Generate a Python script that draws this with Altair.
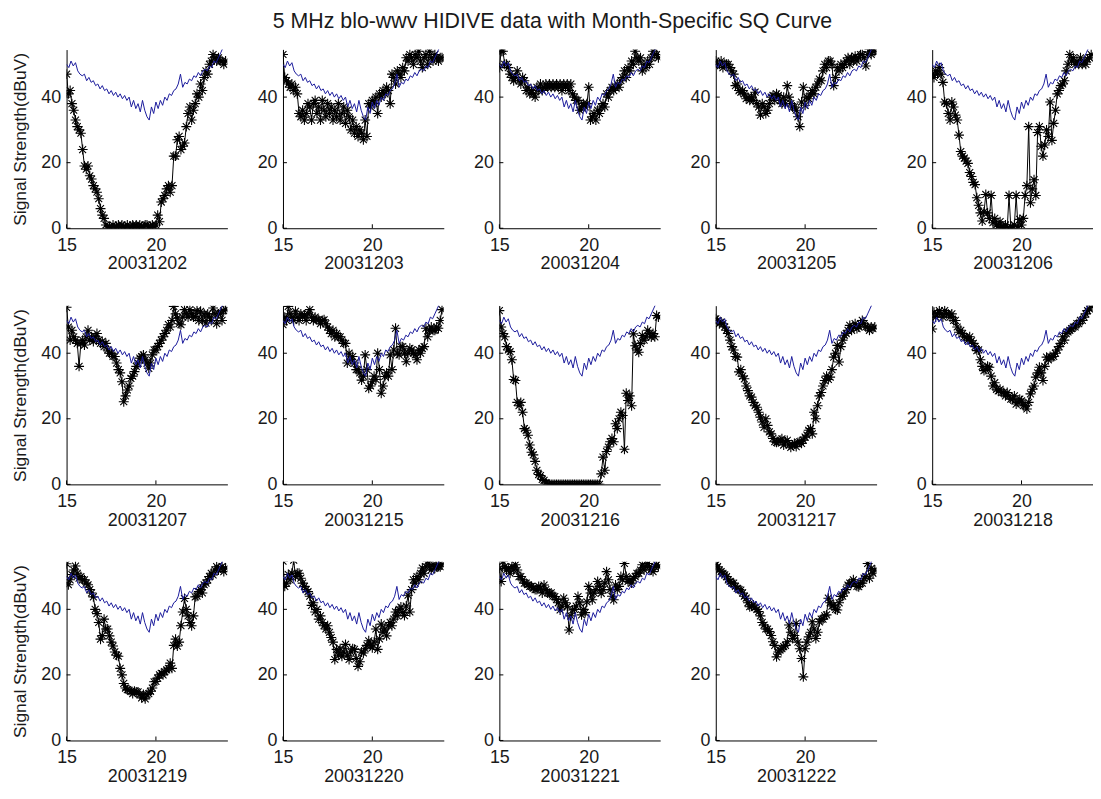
import altair as alt
import pandas as pd

TITLE = "5 MHz blo-wwv HIDIVE data with Month-Specific SQ Curve"
Y_TITLE = "Signal Strength(dBuV)"

dates = ["20031202", "20031203", "20031204", "20031205", "20031206",
         "20031207", "20031215", "20031216", "20031217", "20031218",
         "20031219", "20031220", "20031221", "20031222"]

x_ticks = [15, 20]
y_ticks = [0, 20, 40]

# hour-of-day sample grid of the measured data (one row = one hour)
hours_data = [
    15.0, 15.1, 15.2, 15.3, 15.4, 15.5, 15.6, 15.7, 15.8, 15.9,
    16.0, 16.1, 16.2, 16.3, 16.4, 16.5, 16.6, 16.7, 16.8, 16.9,
    17.0, 17.1, 17.2, 17.3, 17.4, 17.5, 17.6, 17.7, 17.8, 17.9,
    18.0, 18.1, 18.2, 18.3, 18.4, 18.5, 18.6, 18.7, 18.8, 18.9,
    19.0, 19.1, 19.2, 19.3, 19.4, 19.5, 19.6, 19.7, 19.8, 19.9,
    20.0, 20.1, 20.2, 20.3, 20.4, 20.5, 20.6, 20.7, 20.8, 20.9,
    21.0, 21.1, 21.2, 21.3, 21.4, 21.5, 21.6, 21.7, 21.8, 21.9,
    22.0, 22.1, 22.2, 22.3, 22.4, 22.5, 22.6, 22.7, 22.8, 22.9,
    23.0, 23.1, 23.2, 23.3, 23.4, 23.5, 23.6, 23.7, 23.8, 23.9,
]

# month-specific SQ curve (blue)
sq_hours = [
    15.0, 15.125, 15.25, 15.375, 15.5, 15.625, 15.75, 15.875,
    16.0, 16.125, 16.25, 16.375, 16.5, 16.625, 16.75, 16.875,
    17.0, 17.125, 17.25, 17.375, 17.5, 17.625, 17.75, 17.875,
    18.0, 18.125, 18.25, 18.375, 18.5, 18.625, 18.75, 18.875,
    19.0, 19.125, 19.25, 19.375, 19.5, 19.625, 19.75, 19.875,
    20.0, 20.125, 20.25, 20.375, 20.5, 20.625, 20.75, 20.875,
    21.0, 21.125, 21.25, 21.375, 21.5, 21.625, 21.75, 21.875,
    22.0, 22.125, 22.25, 22.375, 22.5, 22.625, 22.75, 22.875,
    23.0, 23.125, 23.25, 23.375, 23.5, 23.625, 23.75, 23.875,
]
sq_values = [
    50, 49, 51, 49.5, 50.5, 48, 47, 46.5,
    47, 45, 46, 44.5, 45, 43.5, 44, 42.5,
    43.5, 42, 42.5, 41, 42, 40.5, 41.5, 40,
    41, 39.5, 40.5, 39, 40, 37, 39, 36.5,
    38, 35.5, 39, 36, 34, 33, 37, 35,
    38.5, 36.5, 39, 37.5, 40, 39, 41, 40.5,
    42, 42.5, 44, 47, 43, 44.5, 44, 45.5,
    45, 46.5, 46, 47.5, 46.5, 48, 48.5, 48,
    49.5, 49, 51, 50.5, 52, 53.5, 55, 56,
]

v_20031202 = [
    47, 41, 42, 38, 36, 33, 31, 30, 29, 24,
    19, 18, 19, 16, 15, 13, 12, 11, 9, 6,
    4, 3, 1, 0, 0.5, 0, 1, 0, 0.5, 1,
    0, 1, 0.5, 0, 1, 0, 0.5, 1, 0, 1,
    0, 1, 0.5, 0, 1, 1, 0, 0.5, 1, 0,
    1, 4, 2, 8, 9, 10, 12, 13, 11, 13,
    22, 22, 27, 28, 24, 25, 26, 31, 35, 37,
    33, 36, 38, 41, 40, 44, 42, 46, 48, 47,
    50, 51, 53, 52, 51, 52, 51, 51, 50, 51,
]
v_20031203 = [
    53, 46, 45, 44, 43, 44, 42, 43, 41, 35,
    34, 36, 33, 35, 38, 37, 33, 38, 39, 35,
    37, 33, 39, 36, 34, 38, 35, 37, 33, 36,
    34, 38, 33, 35, 37, 32, 36, 34, 30, 33,
    29, 31, 28, 30, 29, 27, 33, 28, 38, 37,
    39, 38, 40, 35, 41, 40, 42, 41, 43, 42,
    38, 47, 46, 44, 48, 47, 46, 49, 48, 52,
    51, 53, 52, 50, 53, 52, 54, 51, 49, 52,
    53, 50, 54, 52, 51, 53, 52, 51, 52, 52,
]
v_20031204 = [
    49, 54, 54, 50, 50, 49, 47, 46, 45, 46,
    48, 45, 44, 46, 45, 42, 43, 41, 42, 41,
    40, 43, 42, 44, 42, 43, 44, 43, 44, 43,
    44, 43, 44, 43, 44, 42, 44, 43, 44, 42,
    44, 41, 40, 39, 39, 36, 37, 38, 37, 38,
    43, 33, 34, 35, 33, 36, 35, 37, 38, 37,
    41, 40, 42, 43, 42, 43, 44, 43, 45, 46,
    48, 46, 49, 48, 51, 50, 54, 52, 51, 52,
    48, 50, 49, 51, 50, 52, 54, 53, 53, 52,
]
v_20031205 = [
    51, 50, 50, 51, 49, 50, 50, 50, 49, 48,
    47, 43.5, 44, 42, 41.5, 42, 41, 39.5, 40, 39,
    40, 39, 41.5, 38, 37, 34.5, 38, 37, 35, 36,
    38, 40, 40.5, 39, 41, 40.5, 39, 38, 40, 38,
    43.5, 40, 38, 37, 37, 36, 34, 31, 38.5, 43,
    37.5, 40, 39.5, 41, 42, 41, 43, 44, 45.5, 45,
    48, 50, 49, 51, 51, 50, 43.5, 46, 49, 48,
    50, 49, 50, 51, 52, 50, 52, 51, 52.5, 51,
    52, 53, 53, 52, 49.5, 53, 54.6, 53, 54, 54,
]
v_20031206 = [
    47, 46, 48, 47, 49, 47, 44.5, 38.5, 38, 35,
    33, 38.5, 37, 34.5, 33, 28.4, 23.4, 22, 21.4, 20.5,
    19.8, 17, 15.8, 14, 13.3, 9.3, 7, 4.7, 2.2, 5,
    10.3, 4.7, 3, 10, 1.7, 3, 1, 0.7, 2, 0.5,
    0.2, 1, 0, 10, 0.5, 0, 1, 10, 0.5, 2.7,
    1, 3, 10, 13, 31, 7.8, 12, 14.8, 10, 29.2,
    31, 25, 22, 25.4, 30, 28, 38.5, 26.8, 32, 36,
    41, 42, 43.5, 44, 45, 48, 50, 53, 51, 52,
    50, 51, 50, 52, 50, 51, 50, 51.6, 52, 53,
]
v_20031207 = [
    54, 48, 44, 47, 45, 44, 43, 36, 43, 44,
    42.5, 45, 47, 44, 45, 43.6, 45, 46, 44, 43,
    43.6, 42, 43, 41, 40, 40, 39, 39, 37, 35,
    34, 31.3, 25.2, 27, 28.8, 30, 32.3, 33, 34.4, 36,
    37, 38.5, 39, 39.5, 38, 37, 35.4, 37, 39.5, 41,
    41, 42, 43, 44, 45, 46, 47, 48.7, 48, 50,
    54.3, 52, 50.7, 49, 48.7, 51, 53.3, 52, 51, 53.3,
    52, 51, 51.2, 53, 50, 52.8, 50, 52, 49.2, 52,
    51, 50, 53.8, 52, 49, 52, 52.2, 50, 53, 53.3,
]
v_20031215 = [
    48.7, 51, 50, 54.3, 52, 51, 50, 52.8, 51, 50,
    52, 51, 51.7, 50, 52, 53.3, 51, 50, 51, 50.2,
    50.2, 49, 50, 50.2, 49, 48, 47, 46, 47, 45,
    46, 45, 45, 44, 43, 43, 37, 40, 38, 39,
    37, 35, 35, 34, 31.8, 33, 39.5, 35, 29.3, 30,
    31.3, 33, 32, 40, 35, 27.8, 30, 32.9, 34, 33,
    39.5, 35, 41, 47.6, 40, 39.5, 42, 42, 40, 37.4,
    40, 41.5, 41, 40, 39.5, 38, 41, 40, 41.5, 42,
    47.6, 45, 47, 48, 47, 47, 48, 47.6, 50, 53.3,
]
v_20031216 = [
    53, 48, 46, 45, 42, 41, 40.5, 38, 32, 31.7,
    25, 24, 25, 22, 17, 16.5, 15, 12, 9.8, 9,
    7, 4.3, 3, 2.7, 1.5, 1.2, 0.5, 0, 0, 0,
    0, 0, 0, 0, 0, 0, 0, 0, 0, 0,
    0, 0, 0, 0, 0, 0, 0, 0, 0, 0,
    0, 0, 0, 0, 0, 0, 0, 3.2, 8.3, 4.3,
    10, 11.4, 13, 14, 13, 18.5, 17, 20, 22, 21,
    10.7, 27.8, 25.6, 27, 24, 45.9, 42.3, 41, 40.3, 43,
    45.4, 44, 45, 47, 46, 44.9, 46, 45, 51.5, 51,
]
v_20031217 = [
    50.5, 50, 49, 49.5, 49, 48, 47, 46, 44, 42,
    41, 39, 38.8, 34.3, 35, 33, 32.2, 30, 28.6, 27,
    26.6, 25, 24, 23.5, 22, 20.5, 19, 17.4, 20, 18,
    16, 15.4, 14, 13, 12.8, 13, 13.5, 13.9, 12, 13,
    13.4, 12, 11.3, 12, 12.5, 11.5, 12.8, 13, 12.5, 13.5,
    14.4, 15, 16.5, 17, 15.4, 22, 20, 24, 27, 28,
    30, 31.7, 33, 32, 32.7, 35, 38.8, 40, 42.4, 37.3,
    42, 44, 45.5, 46, 47, 48.5, 47, 48, 49, 47.5,
    48, 49, 50, 49, 48, 48, 47, 48, 47.5, 48,
]
v_20031218 = [
    47.4, 52.5, 51, 52, 53, 52, 51, 53, 52, 52,
    51, 52, 50, 50, 48, 46.4, 47, 46, 45, 44.9,
    44, 45, 43.8, 43, 42, 40.8, 41, 38, 36, 34.7,
    35, 36, 35.7, 33, 30, 31, 29, 28.5, 29, 28,
    28, 27, 28, 27, 26, 26, 27, 24.5, 25, 26,
    25.5, 24, 24, 23, 25, 27.6, 29, 30, 32.7, 34,
    35.7, 34, 31.7, 36, 38.8, 38, 39, 38.8, 39, 40,
    41, 42, 43, 45, 44, 46, 46.5, 47, 47.5, 48,
    48, 49, 49, 50, 50, 51, 52, 53, 53.5, 54.5,
]
v_20031219 = [
    53.9, 47.5, 49, 50.6, 52, 53.2, 51, 49.5, 50, 49,
    49, 48, 47.5, 46, 45, 43.8, 40, 38.7, 36, 30.9,
    32, 37, 34, 34, 31.9, 30, 28.8, 27, 26, 25.7,
    22, 20, 17.4, 16, 15.5, 15.3, 15, 14.3, 15, 14.8,
    14.8, 14, 13, 14, 12.7, 14, 14.3, 15, 16, 17.9,
    18, 19, 20, 20.5, 20, 21, 21.5, 22, 23.6, 22,
    29, 30.9, 28.8, 30, 35, 39.2, 43.3, 40, 38, 36,
    35, 38, 43.8, 44, 45.4, 46, 45, 47.5, 48, 49,
    50, 51, 50.5, 52, 53, 52, 52.6, 53, 51.5, 52.6,
]
v_20031220 = [
    54.7, 47, 48, 50.6, 49, 51, 55, 50, 51, 51,
    49.5, 48, 47, 46, 45.4, 44, 41.2, 42, 39.2, 40,
    37, 38, 36, 35, 34, 35, 33, 31.4, 30, 24.7,
    27.8, 26, 28, 25.7, 27, 29.3, 26, 24.7, 27, 28,
    27.8, 25, 22.6, 24, 27, 26.7, 28, 29, 30.4, 29,
    28.3, 30, 34, 27.8, 31, 35.5, 33, 34, 31.9, 35,
    36, 35, 37, 39.2, 38, 40, 40.7, 39, 38.1, 41,
    44.3, 39.2, 46, 49, 48, 50, 49, 51, 52.6, 51,
    53, 54.7, 53, 52, 53.7, 52.5, 53, 53.2, 53, 53.7,
]
v_20031221 = [
    52.5, 48.5, 54.6, 53, 52, 52.5, 51, 53, 52, 53.6,
    52, 50, 50, 49, 48, 48, 47.5, 47, 47, 46.5,
    46, 46, 47, 46.5, 45, 47.4, 46, 45, 44.9, 45,
    44, 43.9, 43, 42, 39.8, 41, 43.4, 42, 40.8, 33.7,
    38, 39.8, 40, 41, 43.9, 42, 38.3, 40, 39, 42.3,
    47, 45, 42.9, 45, 46, 48.5, 47, 44.9, 46, 48,
    51.5, 49, 46, 44, 42.9, 47.4, 46, 47, 50, 49,
    54, 50, 48.5, 49, 48, 49.5, 50, 51, 51, 52,
    53.6, 52, 53, 54, 53, 52, 51.5, 53, 53.6, 53,
]
v_20031222 = [
    53.6, 53, 52, 51.5, 51, 50.5, 50, 49, 48.5, 48,
    48, 47, 46.4, 46, 45.9, 45, 44, 43.4, 42, 40.8,
    41, 41.3, 40.5, 40, 39.3, 38, 36, 35.2, 34, 34,
    33.2, 32, 30.1, 29, 25.5, 27, 27.6, 28, 28.6, 29,
    30.1, 35.2, 33, 31.1, 32, 35.7, 30, 28, 25, 19.4,
    28, 30, 31.6, 33, 36.2, 34, 31.1, 33, 36.2, 37,
    37, 38, 38.3, 43.4, 42, 41, 41.3, 40, 39.8, 42,
    43.9, 44, 45, 46, 47.4, 48, 48, 49, 48, 47,
    46.9, 48, 48, 49.5, 50, 54, 49.5, 52.5, 51, 52,
]

series = [v_20031202, v_20031203, v_20031204, v_20031205, v_20031206,
          v_20031207, v_20031215, v_20031216, v_20031217, v_20031218,
          v_20031219, v_20031220, v_20031221, v_20031222]

W, H = 162, 180
HGAP, VGAP = 56, 78
FONT = "Liberation Sans"
TXT = "#1a1a1a"
BLUE = "#1c1c9c"
ASTERISK = "M-1,0L1,0M0,-1L0,1M-0.7,-0.7L0.7,0.7M-0.7,0.7L0.7,-0.7"

sq_df = pd.DataFrame({"hour": sq_hours, "ss": sq_values})
xtick_df = pd.DataFrame({"t": x_ticks})
ytick_df = pd.DataFrame({"t": y_ticks})


def make_panel(date, values, col):
    df = pd.DataFrame({"hour": hours_data, "ss": values})
    xsc = alt.Scale(domain=[15, 24], nice=False, zero=False)
    ysc = alt.Scale(domain=[0, 54.5], nice=False, zero=False)
    xax = alt.Axis(values=x_ticks, title=date, labelFlush=False,
                   labelPadding=8, titlePadding=1)
    if col == 0:
        yax = alt.Axis(values=y_ticks, title=Y_TITLE, labelPadding=6,
                       titlePadding=11, titleFontSize=17.5)
    else:
        yax = alt.Axis(values=y_ticks, title=None, labelPadding=6)
    x = alt.X("hour:Q", scale=xsc, axis=xax)
    y = alt.Y("ss:Q", scale=ysc, axis=yax)
    base = alt.Chart(df)
    black_line = base.mark_line(color="black", strokeWidth=1, clip=True).encode(x=x, y=y)
    black_pts = base.mark_point(shape=ASTERISK, filled=False, color="black",
                                strokeWidth=1.1, size=100, opacity=1, clip=True).encode(x=x, y=y)
    blue = alt.Chart(sq_df).mark_line(color=BLUE, strokeWidth=1, clip=True).encode(
        x=alt.X("hour:Q", scale=xsc), y=alt.Y("ss:Q", scale=ysc))
    xt = alt.Chart(xtick_df).mark_rule(color="black", strokeWidth=1).encode(
        x=alt.X("t:Q", scale=xsc), y=alt.value(H - 4), y2=alt.value(H))
    yt = alt.Chart(ytick_df).mark_rule(color="black", strokeWidth=1).encode(
        y=alt.Y("t:Q", scale=ysc), x=alt.value(0), x2=alt.value(4))
    return alt.layer(black_line, black_pts, blue, xt, yt).properties(width=W, height=H)


panels = [make_panel(d, v, i % 5) for i, (d, v) in enumerate(zip(dates, series))]

chart = alt.concat(*panels, columns=5, spacing={"row": VGAP, "column": HGAP},
                   bounds="flush").properties(
    title=alt.TitleParams(TITLE, font=FONT, fontSize=21.5, fontWeight="normal",
                          color=TXT, anchor="middle", frame="bounds", offset=17),
    padding={"left": 3, "top": 0, "right": 0, "bottom": 0},
    background="white",
).configure_view(stroke=None).configure_axis(
    domainColor="black", domainWidth=1, ticks=False, grid=False,
    labelFont=FONT, labelFontSize=18, labelColor=TXT,
    titleFont=FONT, titleFontSize=18, titleFontWeight="normal", titleColor=TXT,
)

chart.save("out.html", embed_options={"renderer": "svg", "actions": False})
